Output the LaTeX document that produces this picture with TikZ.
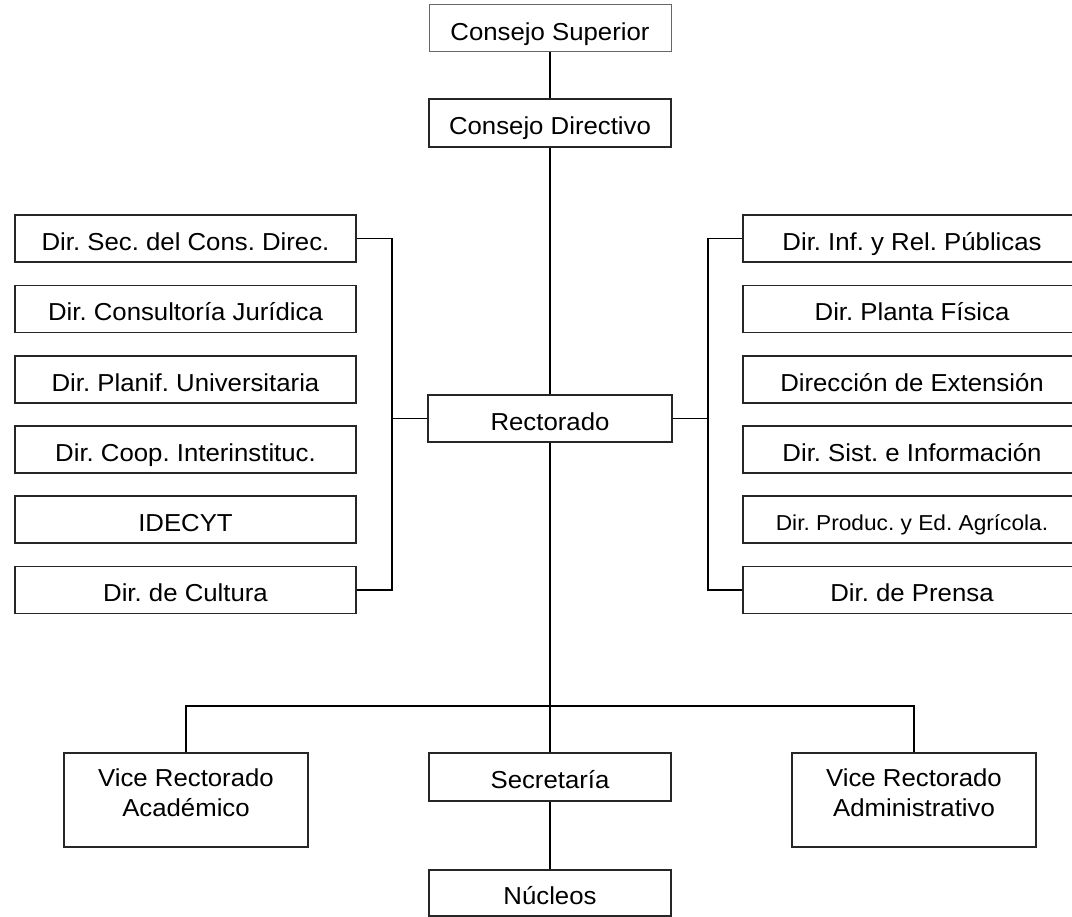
\documentclass[tikz,border=0pt]{standalone}
\usepackage{fontspec}
\setmainfont[FakeStretch=1.05]{Liberation Sans}
\frenchspacing
\begin{document}
\begin{tikzpicture}[x=0.75pt,y=-0.75pt,
  box/.style={draw=black!85,line width=1.2pt,rectangle,inner sep=0pt,
    font=\fontsize{18.4}{22.5}\selectfont,align=center},
  oneline/.style={box,text height=17.6pt,text depth=0pt},
  topbox/.style={oneline,draw=black!60,line width=0.75pt},
  midbox/.style={oneline,minimum width=181.5pt,minimum height=35.25pt},
  lbox/.style={oneline,minimum width=255.75pt,minimum height=35.25pt},
  rbox/.style={oneline,minimum width=253.5pt,minimum height=35.25pt},
  tallbox/.style={box,minimum width=183pt,minimum height=70.5pt},
  link/.style={line width=1.35pt,black}]
\useasboundingbox (0,0) rectangle (1072,917);

% top of the hierarchy
\node[topbox,minimum width=181.5pt,minimum height=35.25pt] (cs) at (550,28.5) {Consejo Superior};
\node[midbox,minimum height=36pt] (cd) at (550,123) {Consejo Directivo};
\node[oneline,minimum width=183pt,minimum height=35.25pt] (rec) at (550,418.5) {Rectorado};

% left-hand directorates
\node[lbox] (l1) at (185.5,238.5) {Dir. Sec. del Cons. Direc.};
\node[lbox] (l2) at (185.5,309) {Dir. Consultoría Jurídica};
\node[lbox] (l3) at (185.5,379.5) {Dir. Planif. Universitaria};
\node[lbox] (l4) at (185.5,449.5) {Dir. Coop. Interinstituc.};
\node[lbox] (l5) at (185.5,519.5) {IDECYT};
\node[lbox] (l6) at (185.5,590) {Dir. de Cultura};

% right-hand directorates
\node[rbox] (r1) at (912,238.5) {Dir. Inf. y Rel. Públicas};
\node[rbox] (r2) at (912,309) {Dir. Planta Física};
\node[rbox] (r3) at (912,379.5) {Dirección de Extensión};
\node[rbox] (r4) at (912,449.5) {Dir. Sist. e Información};
\node[rbox,font=\fontsize{16.2}{19}\selectfont,text height=16pt] (r5) at (912,519.5) {Dir. Produc. y Ed. Agrícola.};
\node[rbox] (r6) at (912,590) {Dir. de Prensa};

% lower level
\node[tallbox] (vra) at (186,800) {Vice Rectorado\\Académico\\[-12pt]};
\node[oneline,minimum width=181.5pt,minimum height=36pt] (sec) at (550,777) {Secretaría};
\node[tallbox] (vrad) at (914,800) {Vice Rectorado\\Administrativo\\[-12pt]};
\node[oneline,minimum width=181.5pt,minimum height=34.5pt] (nuc) at (550,893) {Núcleos};

% junction points
\coordinate (lb) at (392,418.5);
\coordinate (rb) at (708,418.5);
\coordinate (hub) at (550,706);

% connectors
\draw[link] (cs.south) -- (cd.north);
\draw[link] (cd.south) -- (rec.north);
\draw[link] (rec.west) -- (lb);
\draw[link] (l1.east) -| (lb) |- (l6.east);
\draw[link] (rec.east) -- (rb);
\draw[link] (r1.west) -| (rb) |- (r6.west);
\draw[link] (rec.south) -- (hub) -- (sec.north);
\draw[link] (vra.north) |- (hub) -| (vrad.north);
\draw[link] (sec.south) -- (nuc.north);
\end{tikzpicture}
\end{document}
